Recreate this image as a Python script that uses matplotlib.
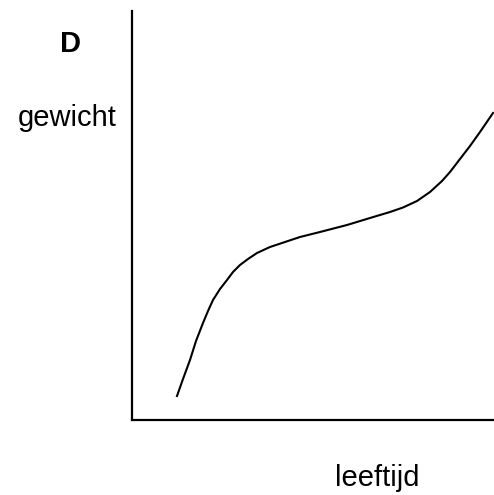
import matplotlib.pyplot as plt

plt.rcParams['font.family'] = ['Liberation Sans', 'DejaVu Sans']

# curve (leeftijd, gewicht), arbitrary units
leeftijd = [45, 51, 58, 64, 71, 76, 81, 88, 95, 101, 108, 116, 125, 138,
            156, 168, 188, 215, 238, 258, 271, 285, 298, 310, 318,
            328, 338, 348, 361]
gewicht = [24, 41, 60, 79, 97, 109, 120, 131, 140, 148, 155, 161, 167, 173,
           179, 183, 188, 195, 202, 208, 212.5, 219, 228, 239, 248,
           261, 274, 288, 307]

fig = plt.figure(figsize=(4.94, 4.95), dpi=100)
ax = fig.add_axes([132 / 494, 1 - 420 / 495, 362 / 494, 409 / 495])

ax.plot(leeftijd, gewicht, color='black', linewidth=1.5)

ax.set_xlim(0, 362)
ax.set_ylim(0, 409)
ax.set_xticks([])
ax.set_yticks([])
for side in ['top', 'right']:
    ax.spines[side].set_visible(False)
for side in ['left', 'bottom']:
    ax.spines[side].set_linewidth(1.6)

fig.text(71 / 494, 1 - 44 / 495, 'D', fontsize=21, fontweight='bold',
         ha='center', va='center')
fig.text(67 / 494, 1 - 118 / 495, 'gewicht', fontsize=21,
         ha='center', va='center')
fig.text(377 / 494, 1 - 478 / 495, 'leeftijd', fontsize=21,
         ha='center', va='center')

fig.savefig('out.png', dpi=100)
